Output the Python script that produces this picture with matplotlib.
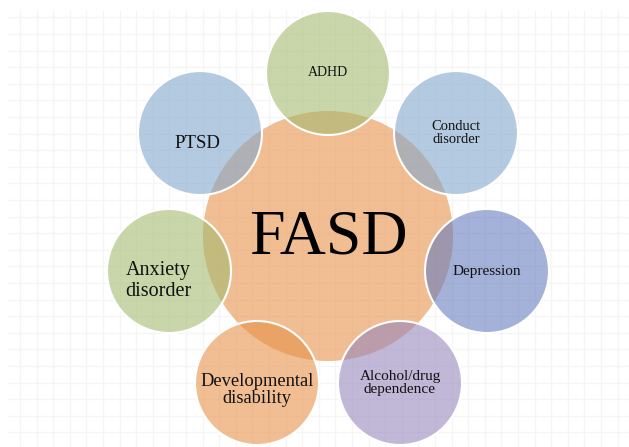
import numpy as np
import matplotlib
matplotlib.use("Agg")
import matplotlib.pyplot as plt
from matplotlib.patches import Circle

# centre circle
center_label = "FASD"
center_xy = (328, 236)
center_r = 125
center_color = "#e99149"

# satellite circles (pixel coords, y down)
labels = ["ADHD", "Conduct\ndisorder", "Depression", "Alcohol/drug\ndependence",
          "Developmental\ndisability", "Anxiety\ndisorder", "PTSD"]
xs = [328, 456, 487, 400, 257, 169, 200]
ys = [73, 133, 271, 383, 383, 271, 133]
colors = ["#a5bb71", "#82a8cd", "#677dbe", "#9887bb", "#e69349", "#a5bb71", "#82a8cd"]
font_sizes = [10, 10.5, 11, 11, 13.3, 14.5, 13.5]
line_spacing = [1.0, 1.0, 1.0, 0.95, 1.05, 1.15, 1.0]
# label nudges inside each circle (px)
text_dx = [0, 0, 0, 0, 0, -11, -3]
text_dy = [-1, 0, 1, 0, 7, 10, 11]
sat_r = 62
alpha = 0.6

fig = plt.figure(figsize=(6.29, 4.47), dpi=100)
ax = fig.add_axes([0, 0, 1, 1])
ax.set_xlim(0, 629)
ax.set_ylim(447, 0)
ax.axis("off")

# faint background grid
gx = np.arange(20, 629, 16.6)
gy = np.arange(17.3, 447, 16.6)
ax.vlines(gx, 10, 447, color="#f5f5f5", lw=1, zorder=0)
ax.hlines(gy, 7, 629, color="#f5f5f5", lw=1, zorder=0)

ax.add_patch(Circle(center_xy, center_r, facecolor=center_color, alpha=alpha,
                    edgecolor="none", zorder=1))
ax.text(center_xy[0], center_xy[1] + 2, center_label, family="Liberation Serif",
        fontsize=46, ha="center", va="center", color="black", zorder=5)

for i, lab in enumerate(labels):
    x, y = xs[i], ys[i]
    ax.add_patch(Circle((x, y), sat_r, facecolor=colors[i], alpha=alpha,
                        edgecolor="none", zorder=2))
    ax.add_patch(Circle((x, y), sat_r, facecolor="none", edgecolor="white", lw=1.5, zorder=3))
    ax.text(x + text_dx[i], y + text_dy[i], lab, family="Liberation Serif",
            fontsize=font_sizes[i], ha="center", va="center", multialignment="center",
            linespacing=line_spacing[i], color="#111111", zorder=5)

fig.savefig("out.png", dpi=100)
